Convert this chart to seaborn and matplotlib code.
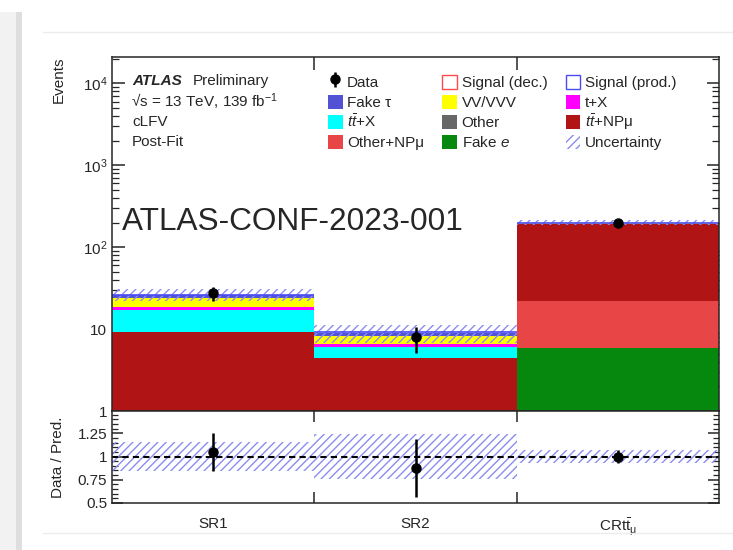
import numpy as np
import pandas as pd
import seaborn as sns
import matplotlib.pyplot as plt
from matplotlib.patches import Patch, Rectangle
from matplotlib.lines import Line2D
from matplotlib.legend_handler import HandlerPatch
from matplotlib.ticker import FuncFormatter, LogLocator, MultipleLocator, NullFormatter, FixedLocator

# regions (bins)
regions = ['SR1', 'SR2', r'CR$\mathrm{t\bar{t}}_{\mathrm{μ}}$']

# post-fit yields per region
fake_tau = [2.5, 0.75, 0.5]
other = [0.15, 0.05, 0.6]
vv_vvv = [5.0, 1.65, 3.5]
t_x = [1.7, 0.45, 0.5]
tt_x = [7.8, 1.6, 2.0]
tt_np_mu = [9.2, 4.5, 170.0]
other_np_mu = [0.0, 0.0, 16.0]
fake_e = [0.0, 0.0, 5.9]
sig_prod = [0.1, 0.1, 0.1]

data = [27.6, 7.9, 199.0]
data_err = [5.3, 2.8, 14.0]
rel_unc = [0.16, 0.24, 0.07]

sns.set_style('ticks')
plt.rcParams['font.family'] = ['Liberation Sans', 'DejaVu Sans']
plt.rcParams['mathtext.fontset'] = 'custom'
plt.rcParams['mathtext.rm'] = 'Liberation Sans'
plt.rcParams['mathtext.it'] = 'Liberation Sans:italic'
plt.rcParams['mathtext.bf'] = 'Liberation Sans:bold'
plt.rcParams['hatch.linewidth'] = 1.0
plt.rcParams['axes.linewidth'] = 1.1

# stacking order, top of the stack first (seaborn puts the first hue level on top)
yields = {
    'fake_tau': fake_tau,
    'other': other,
    'vv': vv_vvv,
    'tx': t_x,
    'ttx': tt_x,
    'ttnp': tt_np_mu,
    'othernp': other_np_mu,
    'fakee': fake_e,
}
colors = {
    'fake_tau': '#5252d4',
    'other': '#676767',
    'vv': '#ffff00',
    'tx': '#ff00ff',
    'ttx': '#00ffff',
    'ttnp': '#b01414',
    'othernp': '#e84646',
    'fakee': '#06880f',
}
labels = {
    'fake_tau': 'Fake τ',
    'other': 'Other',
    'vv': 'VV/VVV',
    'tx': 't+X',
    'ttx': r'$t\bar{t}$+X',
    'ttnp': r'$t\bar{t}$+NPμ',
    'othernp': 'Other+NPμ',
    'fakee': r'Fake $e$',
}
hatch_col = '#8c8cf0'

rows = []
for name, vals in yields.items():
    for i, v in enumerate(vals):
        rows.append({'bin': i + 0.5, 'events': v, 'process': name})
df = pd.DataFrame(rows)

edges = [0, 1, 2, 3]
left = np.array(edges[:-1])
centers = left + 0.5
total = np.sum(list(yields.values()), axis=0)
data = np.array(data)
data_err = np.array(data_err)
rel_unc = np.array(rel_unc)

fig = plt.figure(figsize=(7.33, 5.5), dpi=100)

# screenshot card decoration
fig.add_artist(Rectangle((0, 0), 16 / 733, 1 - 12 / 550, transform=fig.transFigure,
                         color='#f2f2f2', lw=0, zorder=-5))
fig.add_artist(Rectangle((16 / 733, 0), 6 / 733, 1 - 12 / 550, transform=fig.transFigure,
                         color='#dedede', lw=0, zorder=-5))
fig.add_artist(Line2D([43 / 733, 1], [1 - 32 / 550] * 2, transform=fig.transFigure,
                      color='#ececec', lw=1))
fig.add_artist(Line2D([43 / 733, 1], [1 - 533 / 550] * 2, transform=fig.transFigure,
                      color='#ececec', lw=1))

ax = fig.add_axes([0.1528, 0.2527, 0.8281, 0.6437])
ax_r = fig.add_axes([0.1528, 0.0855, 0.8281, 0.1672], sharex=ax)

sns.histplot(data=df, x='bin', weights='events', hue='process', hue_order=list(yields.keys()),
             palette=colors, multiple='stack', bins=edges, element='bars',
             linewidth=0, alpha=1, legend=False, ax=ax)
ax.set_yscale('log')

ax.hlines(total + np.array(sig_prod), left, left + 1, color='#4a4af5', lw=1.2)
ax.bar(left, 2 * rel_unc * total, bottom=total * (1 - rel_unc), width=1, align='edge',
       fill=False, hatch='////', edgecolor=hatch_col, linewidth=0)
data_h = ax.errorbar(centers, data, yerr=data_err, fmt='o', color='k', ms=6.5,
                     elinewidth=1.8, capsize=0)

ax.set_xlim(0, 3)
ax.set_ylim(1, 2.1e4)
ax.set_xlabel('')
ax.set_ylabel('Events', fontsize=11, loc='top')
ax.yaxis.set_label_coords(-0.077, 1.0)
ax.yaxis.set_major_locator(LogLocator(base=10, numticks=10))
ax.yaxis.set_minor_locator(LogLocator(base=10, subs=np.arange(2, 10), numticks=10))
ax.yaxis.set_minor_formatter(NullFormatter())
ax.yaxis.set_major_formatter(FuncFormatter(
    lambda v, p: '1' if v == 1 else ('10' if v == 10 else r'$10^{%d}$' % round(np.log10(v)))))
ax.xaxis.set_major_locator(FixedLocator([1, 2]))
ax.tick_params(axis='both', which='major', direction='in', length=9, width=1.1,
               top=True, right=True, labelsize=11, labelbottom=False)
ax.tick_params(axis='y', which='minor', direction='in', length=5, width=0.9, right=True)

# ratio panel
ratio = data / total
ratio_err = data_err / total
ax_r.bar(left, 2 * rel_unc, bottom=1 - rel_unc, width=1, align='edge',
         fill=False, hatch='////', edgecolor=hatch_col, linewidth=0)
ax_r.axhline(1, color='k', ls='--', lw=1.5, dashes=(3, 2))
ax_r.errorbar(centers, ratio, yerr=ratio_err, fmt='o', color='k', ms=6.5,
              elinewidth=1.8, capsize=0)
ax_r.set_ylim(0.5, 1.49)
ax_r.set_yticks([0.5, 0.75, 1, 1.25], labels=['0.5', '0.75', '1', '1.25'])
ax_r.yaxis.set_minor_locator(MultipleLocator(0.05))
ax_r.set_xticks([1, 2])
ax_r.set_xticks(centers, labels=regions, minor=True)
ax_r.set_ylabel('Data / Pred.', fontsize=11)
ax_r.yaxis.set_label_coords(-0.077, 0.5)
ax_r.tick_params(axis='both', which='major', direction='in', length=8, width=1.1,
                 top=True, right=True, labelsize=11, labelbottom=False)
ax_r.tick_params(axis='y', which='minor', direction='in', length=4, width=0.9, right=True)
ax_r.tick_params(axis='x', which='minor', length=0, pad=10, labelsize=11, labelbottom=True)

# text
fig.text(132 / 733, 1 - 81 / 550, 'ATLAS', fontsize=11, fontweight='bold', fontstyle='italic', va='center')
fig.text(193 / 733, 1 - 81 / 550, 'Preliminary', fontsize=11, va='center')
fig.text(131 / 733, 1 - 101.5 / 550, '√s = 13 TeV, 139 fb$^{-1}$', fontsize=11, va='center')
fig.text(132 / 733, 1 - 122 / 550, 'cLFV', fontsize=11, va='center')
fig.text(132 / 733, 1 - 142.5 / 550, 'Post-Fit', fontsize=11, va='center')
fig.text(122 / 733, 1 - 222 / 550, 'ATLAS-CONF-2023-001', fontsize=22.7, va='center')


# legend (column-wise fill); swatches smaller than the row box
def small_box(legend, orig_handle, xdescent, ydescent, width, height, fontsize):
    h = 0.92 * fontsize
    return Rectangle((-xdescent, -ydescent + (height - h) / 2), width, h)


def sw(key):
    return Patch(facecolor=colors[key], edgecolor='none')

handles = [data_h, sw('fake_tau'), sw('ttx'), sw('othernp'),
           Patch(facecolor='white', edgecolor='#ff4a4a', lw=1),
           sw('vv'), sw('other'), sw('fakee'),
           Patch(facecolor='white', edgecolor='#4a4af5', lw=1),
           sw('tx'), sw('ttnp'),
           Patch(facecolor='none', edgecolor=hatch_col, hatch='////', lw=0)]
leg_labels = ['Data', labels['fake_tau'], labels['ttx'], labels['othernp'],
              'Signal (dec.)', labels['vv'], labels['other'], labels['fakee'],
              'Signal (prod.)', labels['tx'], labels['ttnp'], 'Uncertainty']
fig.legend(handles, leg_labels, ncol=3, loc='upper left',
           bbox_to_anchor=(328 / 733, 1 - 72 / 550), frameon=False, fontsize=11,
           borderpad=0, borderaxespad=0, handlelength=0.95, handleheight=1.6,
           handletextpad=0.3, columnspacing=1.2, labelspacing=0.03,
           handler_map={Patch: HandlerPatch(patch_func=small_box)})

fig.savefig('out.png', dpi=100)
